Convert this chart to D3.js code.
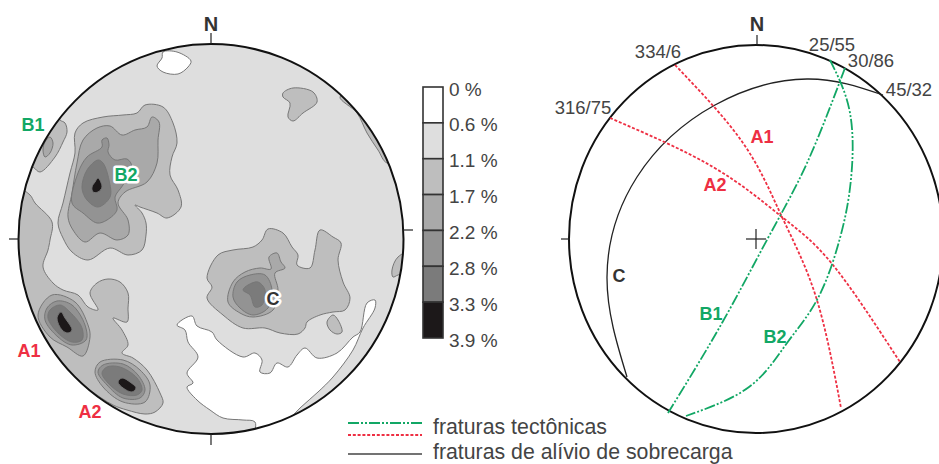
<!DOCTYPE html>
<html>
<head>
<meta charset="utf-8">
<script src="https://cdn.jsdelivr.net/npm/d3@7"></script>
<style>
  html, body { margin: 0; padding: 0; background: #fff; overflow: hidden; }
  text { font-family: "Liberation Sans", Arial, sans-serif; }
</style>
</head>
<body>
<script>
"use strict";

// Density classes, legend order
let levels = ["0 %", "0.6 %", "1.1 %", "1.7 %", "2.2 %", "2.8 %", "3.3 %", "3.9 %"];
let classColors = ["#ffffff", "#dedede", "#bebebe", "#a9a9a9", "#939393", "#7b7b7b", "#1c1819"];

// Contours: [east, north] in net units
let whitePatch = [[-48,187],[-34,187],[-20,178],[-23,172],[-33,165],[-48,167],[-54,173],[-49,181]];
let whiteBottom = [[-34,-86],[-19,-77],[-14,-87],[1,-93],[6,-101],[32,-118],[44,-114],[51,-121],[49,-133],[59,-134],[66,-124],[77,-128],[86,-116],[94,-109],[106,-119],[126,-114],[142,-98],[149,-93],[156,-64],[164,-61],[164,-69],[152,-89],[142,-111],[122,-138],[107,-153],[89,-169],[69,-189],[44,-201],[44,-183],[32,-181],[12,-179],[-1,-171],[-14,-161],[-24,-148],[-18,-144],[-24,-134],[-13,-118],[-23,-103],[-26,-91]];

let b1Outer = [[-151,119],[-146,116],[-144,107],[-148,97],[-156,82],[-171,67],[-178,72],[-191,79],[-181,119],[-161,134]];
let b1Inner = [[-161,102],[-158,96],[-161,86],[-166,82],[-168,89],[-166,97]];

let leftMargin = [[-181,44],[-176,36],[-159,17],[-161,-1],[-163,-11],[-168,-28],[-158,-44],[-148,-51],[-133,-56],[-123,-68],[-113,-71],[-121,-54],[-114,-44],[-103,-40],[-91,-43],[-83,-54],[-83,-69],[-84,-83],[-98,-79],[-89,-91],[-83,-106],[-89,-114],[-78,-119],[-64,-131],[-51,-154],[-48,-164],[-56,-173],[-66,-175],[-84,-171],[-98,-166],[-121,-151],[-139,-136],[-156,-133],[-201,-61],[-211,19],[-191,49]];

let b2Outer = [[-66,134],[-48,132],[-38,116],[-34,96],[-39,82],[-41,64],[-33,49],[-30,32],[-44,21],[-54,26],[-71,32],[-76,34],[-69,26],[-65,16],[-65,4],[-69,-11],[-83,-16],[-101,-9],[-123,-21],[-139,-13],[-148,1],[-153,16],[-148,36],[-141,66],[-136,86],[-136,106],[-128,116],[-108,122],[-88,124],[-74,126]];
let b2Mid = [[-59,122],[-52,117],[-53,99],[-54,76],[-64,57],[-86,47],[-93,36],[-83,19],[-83,4],[-94,-1],[-111,6],[-126,-3],[-138,9],[-143,22],[-139,46],[-134,76],[-128,99],[-114,111],[-101,113],[-89,104],[-76,109],[-64,112]];
let b2Inner = [[-104,101],[-102,94],[-103,87],[-96,79],[-84,80],[-79,72],[-88,54],[-96,42],[-94,29],[-104,19],[-114,16],[-128,26],[-139,36],[-133,66],[-124,82],[-109,92],[-109,99]];
let b2Core = [[-113,79],[-108,76],[-102,59],[-101,42],[-113,32],[-124,39],[-129,51],[-124,69]];
let b2Peak = [[-113,61],[-109,52],[-113,47],[-118,47],[-119,52],[-116,57]];

let a1Outer = [[-159,-56],[-136,-63],[-123,-86],[-121,-98],[-128,-117],[-144,-108],[-161,-98],[-173,-76]];
let a1Mid = [[-154,-62],[-139,-66],[-126,-86],[-125,-101],[-139,-106],[-153,-98],[-166,-81],[-164,-69]];
let a1Inner = [[-151,-66],[-141,-73],[-129,-89],[-129,-101],[-139,-103],[-153,-94],[-163,-79],[-161,-71]];
let a1Peak = [[-150,-73],[-146,-79],[-139,-91],[-143,-94],[-149,-91],[-154,-79]];

let a2Outer = [[-111,-123],[-88,-121],[-71,-131],[-61,-146],[-66,-163],[-88,-163],[-108,-148],[-116,-133]];
let a2Mid = [[-108,-126],[-88,-125],[-73,-136],[-66,-151],[-71,-159],[-88,-159],[-104,-146],[-113,-133]];
let a2Inner = [[-104,-128],[-91,-128],[-74,-139],[-69,-151],[-74,-156],[-88,-155],[-103,-144],[-109,-134]];
let a2Peak = [[-89,-139],[-81,-143],[-75,-149],[-79,-153],[-88,-149],[-93,-143]];

let cOuter = [[57,10],[72,6],[81,-8],[87,-16],[86,-26],[99,-29],[104,-11],[109,9],[122,2],[130,-4],[127,-21],[132,-43],[139,-59],[134,-71],[122,-73],[109,-76],[96,-83],[94,-89],[87,-95],[69,-94],[54,-89],[32,-89],[12,-76],[-4,-59],[1,-48],[-4,-39],[7,-16],[22,-11],[42,-8],[51,-1]];
let cIsland = [[122,-76],[127,-81],[131,-93],[126,-95],[119,-91],[116,-83]];
let cMid = [[66,-14],[70,-23],[74,-29],[64,-34],[67,-51],[62,-71],[42,-78],[29,-74],[17,-63],[22,-43],[34,-33],[49,-29],[60,-30],[58,-18]];
let cInner = [[39,-36],[54,-36],[61,-51],[57,-69],[42,-76],[29,-69],[22,-58],[26,-43]];
let cCore = [[47,-43],[54,-51],[51,-66],[44,-68],[39,-56],[32,-51],[37,-46]];

let nePatch = [[72,146],[82,151],[102,147],[106,137],[92,126],[82,118],[77,122],[79,136],[72,142]];
let neSliver = [[129,142],[146,126],[156,106],[167,89],[176,76],[199,79],[149,149]];
let ePatch = [[187,-18],[181,-31],[182,-38],[187,-36],[204,-31],[204,-11]];

// Great circles read off the right net: [east, north], roughly evenly spaced
let planeA1 = [[-81,174],[-13,96],[26,22],[60,-58],[85,-169]];
let planeA2 = [[-146,121],[-43,72],[26,22],[77,-26],[144,-123]];
let planeB1 = [[89,171],[51,76],[12,1],[-34,-84],[-88,-174]];
let planeB2 = [[74,179],[94,126],[95,60],[84,1],[62,-59],[31,-104],[-7,-148],[-70,-177]];
let planeC = [[127,144],[51,160],[-41,134],[-119,62],[-149,-38],[-129,-138]];

// level = index into classColors, drawn in order
let contours = [
  {level: 0, points: whitePatch}, {level: 0, points: whiteBottom},
  {level: 2, points: nePatch}, {level: 2, points: neSliver}, {level: 2, points: ePatch},
  {level: 2, points: b1Outer}, {level: 3, points: b1Inner},
  {level: 2, points: leftMargin},
  {level: 2, points: b2Outer}, {level: 3, points: b2Mid}, {level: 4, points: b2Inner}, {level: 5, points: b2Core}, {level: 6, points: b2Peak},
  {level: 3, points: a1Outer}, {level: 4, points: a1Mid}, {level: 5, points: a1Inner}, {level: 6, points: a1Peak},
  {level: 3, points: a2Outer}, {level: 4, points: a2Mid}, {level: 5, points: a2Inner}, {level: 6, points: a2Peak},
  {level: 2, points: cOuter}, {level: 2, points: cIsland}, {level: 3, points: cMid}, {level: 4, points: cInner}, {level: 5, points: cCore}
];

let green = "#12a765", red = "#ee2f43", textGrey = "#444";

let svg = d3.select("body").append("svg")
    .attr("width", 939)
    .attr("height", 464);

// Left net (density). The scan is a little squeezed horizontally.

let lr = {x: 192.5, y: 195};
let lx = d3.scaleLinear().domain([-lr.x, lr.x]).range([18.5, 403.5]);
let ly = d3.scaleLinear().domain([-lr.y, lr.y]).range([434, 44]);

function disk(sel) {
    return sel.append("ellipse")
        .attr("cx", lx(0)).attr("cy", ly(0))
        .attr("rx", lr.x).attr("ry", lr.y);
}

disk(svg.append("defs").append("clipPath").attr("id", "leftDisk"));

let contourLine = d3.line()
    .x(d => lx(d[0]))
    .y(d => ly(d[1]))
    .curve(d3.curveCatmullRomClosed.alpha(0.5));

let left = svg.append("g");

disk(left).attr("fill", classColors[1]);

left.append("g")
    .attr("clip-path", "url(#leftDisk)")
    .selectAll("path")
    .data(contours)
    .join("path")
    .attr("d", d => contourLine(d.points))
    .attr("fill", d => classColors[d.level])
    .attr("stroke", "#777")
    .attr("stroke-width", 1);

disk(left)
    .attr("fill", "none")
    .attr("stroke", "#111")
    .attr("stroke-width", 2);

// Right net (great circles)

let rr = {x: 187, y: 194};
let rx = d3.scaleLinear().domain([-rr.x, rr.x]).range([569, 943]);
let ry = d3.scaleLinear().domain([-rr.y, rr.y]).range([433, 45]);

let right = svg.append("g");

right.append("ellipse")
    .attr("cx", rx(0)).attr("cy", ry(0))
    .attr("rx", rr.x).attr("ry", rr.y)
    .attr("fill", "#fff")
    .attr("stroke", "#111")
    .attr("stroke-width", 2);

let planeLine = d3.line()
    .x(d => rx(d[0]))
    .y(d => ry(d[1]))
    .curve(d3.curveNatural);

let planes = [
  {points: planeC, color: "#222", width: 1.3, dash: null},
  {points: planeA1, color: red, width: 1.8, dash: "3,1.8"},
  {points: planeA2, color: red, width: 1.8, dash: "3,1.8"},
  {points: planeB1, color: green, width: 1.8, dash: "11,2,2,2,2,2"},
  {points: planeB2, color: green, width: 1.8, dash: "11,2,2,2,2,2"}
];

right.selectAll("path.plane")
    .data(planes)
    .join("path")
    .attr("class", "plane")
    .attr("d", d => planeLine(d.points))
    .attr("fill", "none")
    .attr("stroke", d => d.color)
    .attr("stroke-width", d => d.width)
    .attr("stroke-dasharray", d => d.dash);

// Ticks and centre cross

function tick(x1, y1, x2, y2) {
    svg.append("line")
        .attr("x1", x1).attr("y1", y1)
        .attr("x2", x2).attr("y2", y2)
        .attr("stroke", "#222")
        .attr("stroke-width", 1.2);
}

tick(lx(0), 33, lx(0), 44);
tick(lx(0), 434, lx(0), 445);
tick(9, ly(0), 19, ly(0));
tick(403, 230, 413, 230);
tick(rx(0) + 1, 35, rx(0) + 1, 45);
tick(561, ry(0), 570, ry(0));
tick(rx(0) - 10, ry(0), rx(0) + 10, ry(0));
tick(rx(0), ry(0) - 10, rx(0), ry(0) + 10);

// Labels

function label(txt, x, y, opts) {
    opts = opts || {};
    let t = svg.append("text")
        .attr("x", x).attr("y", y)
        .attr("text-anchor", opts.anchor || "middle")
        .attr("dominant-baseline", "central")
        .attr("font-size", opts.size || 18.5)
        .attr("font-weight", opts.bold ? "bold" : "normal")
        .attr("fill", opts.color || textGrey)
        .text(txt);
    if (opts.halo) {
        t.attr("stroke", "#fff")
            .attr("stroke-width", 5)
            .attr("stroke-linejoin", "round")
            .attr("paint-order", "stroke");
    }
    return t;
}

label("N", 211, 24, {bold: true, size: 20, color: "#333"});
label("N", 757, 24, {bold: true, size: 20, color: "#333"});

label("B1", 33, 125, {bold: true, size: 18, color: green});
label("B2", 126, 175, {bold: true, size: 18, color: green, halo: true});
label("A1", 29, 351, {bold: true, size: 18, color: red});
label("A2", 90, 412, {bold: true, size: 18, color: red});
label("C", 273, 299, {bold: true, size: 18, color: "#333", halo: true});

label("334/6", 658, 51);
label("316/75", 583, 107);
label("25/55", 832, 44);
label("30/86", 871, 60);
label("45/32", 909, 89);

label("A1", 762, 137, {bold: true, size: 18, color: red});
label("A2", 715, 185, {bold: true, size: 18, color: red});
label("B1", 711, 314, {bold: true, size: 18, color: green});
label("B2", 775, 337, {bold: true, size: 18, color: green});
label("C", 619, 276, {bold: true, size: 18, color: "#333"});

// Density legend

let legendY = d3.scalePoint()
    .domain(levels)
    .range([87, 338]);

let legend = svg.append("g");

legend.selectAll("rect")
    .data(classColors)
    .join("rect")
    .attr("x", 423)
    .attr("y", (d, i) => legendY(levels[i]))
    .attr("width", 20)
    .attr("height", legendY.step())
    .attr("fill", d => d)
    .attr("stroke", "#333")
    .attr("stroke-width", 1.6);

legend.selectAll("text")
    .data(levels)
    .join("text")
    .attr("x", 449)
    .attr("y", d => legendY(d) + 2)
    .attr("dominant-baseline", "central")
    .attr("font-size", 19)
    .attr("fill", textGrey)
    .text(d => d);

// Line legend

let lineKey = d3.scaleOrdinal()
    .domain(["green", "red", "black"])
    .range([423, 435, 454]);

function keyLine(key, color, dash, width) {
    svg.append("line")
        .attr("x1", 348).attr("x2", 422)
        .attr("y1", lineKey(key)).attr("y2", lineKey(key))
        .attr("stroke", color)
        .attr("stroke-width", width)
        .attr("stroke-dasharray", dash);
}

keyLine("green", green, "11,2,2,2,2,2", 2);
keyLine("red", red, "3,1.8", 2);
keyLine("black", "#444", null, 1.4);

label("fraturas tectônicas", 433, 427, {anchor: "start", size: 21.3});
label("fraturas de alívio de sobrecarga", 433, 452, {anchor: "start", size: 21.3});
</script>
</body>
</html>
